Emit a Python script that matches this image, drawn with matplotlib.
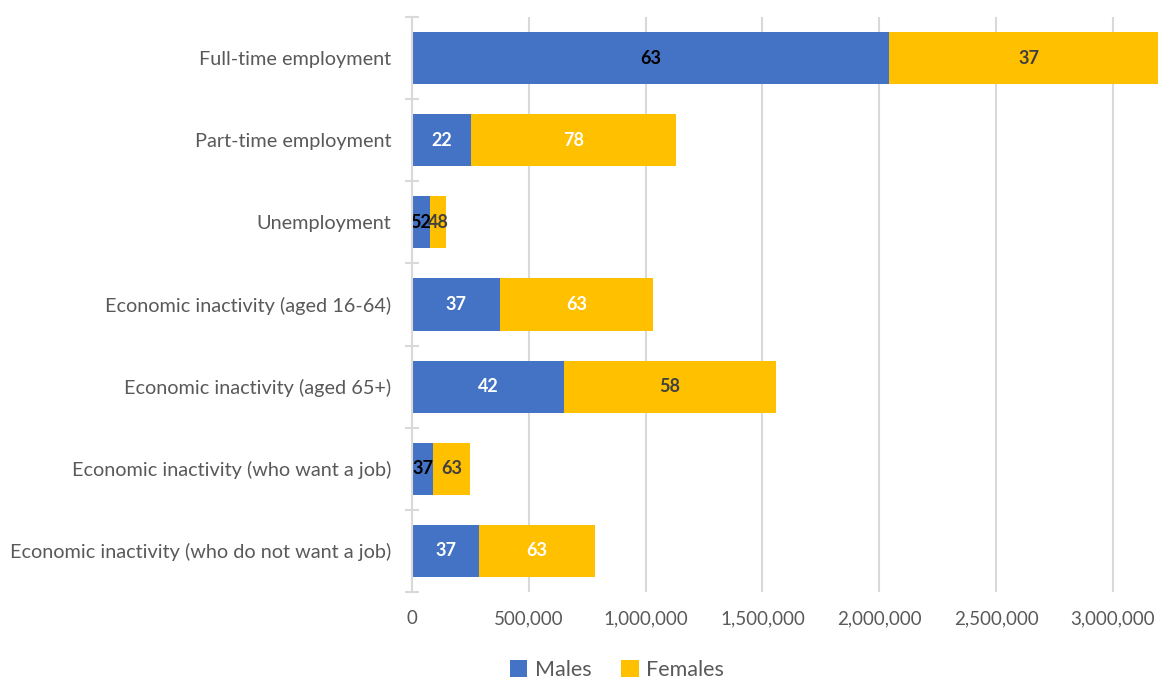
import numpy as np
import matplotlib
matplotlib.use("Agg")
import matplotlib.pyplot as plt
from matplotlib.ticker import FuncFormatter, FixedLocator

# ── Data ──────────────────────────────────────────────────────────────────────
categories = [
    "Full-time employment",
    "Part-time employment",
    "Unemployment",
    "Economic inactivity (aged 16-64)",
    "Economic inactivity (aged 65+)",
    "Economic inactivity (who want a job)",
    "Economic inactivity (who do not want a job)",
]
males   = [2042000, 251000, 76000, 377000, 651000, 90000, 287000]
females = [1199000, 878000, 71000, 653000, 907000, 160000, 496000]
male_pct   = [63, 22, 52, 37, 42, 37, 37]
female_pct = [37, 78, 48, 63, 58, 63, 63]
# label colours as in the original (white / black / dark grey)
male_lbl_col   = ["black", "white", "black", "white", "white", "black", "white"]
female_lbl_col = ["#404040", "white", "#404040", "white", "#404040", "#404040", "white"]

BLUE = "#4472C4"
GOLD = "#FFC000"
GRID = "#D9D9D9"
TXT = "#595959"

plt.rcParams["font.family"] = ["Lato", "DejaVu Sans"]

fig = plt.figure(figsize=(11.58, 6.79), dpi=100)
ax = fig.add_axes([412 / 1158, 87 / 679, 747.5 / 1158, 575 / 679])

y = np.arange(len(categories))
h = 0.634
ax.barh(y, males, height=h, color=BLUE, label="Males", zorder=3)
ax.barh(y, females, left=males, height=h, color=GOLD, label="Females", zorder=3)

for i in range(len(categories)):
    ax.text(males[i] / 2, y[i], str(male_pct[i]), ha="center", va="center",
            fontsize=13, fontweight="bold", color=male_lbl_col[i], zorder=4)
    ax.text(males[i] + females[i] / 2, y[i], str(female_pct[i]), ha="center",
            va="center", fontsize=13, fontweight="bold",
            color=female_lbl_col[i], zorder=4, clip_on=True)

ax.set_xlim(0, 3200000)
ax.set_ylim(len(categories) - 0.5, -0.5)
ax.xaxis.set_major_locator(FixedLocator(np.arange(0, 3000001, 500000)))
ax.xaxis.set_major_formatter(FuncFormatter(lambda v, p: f"{int(v):,}"))
ax.grid(axis="x", color=GRID, linewidth=1.5, zorder=0)
ax.tick_params(axis="x", length=0, pad=13, labelsize=13.5, labelcolor=TXT)

ax.set_yticks(y)
ax.set_yticklabels(categories)
ax.tick_params(axis="y", which="major", length=0, pad=15, labelsize=14.3,
               labelcolor=TXT)
ax.yaxis.set_minor_locator(FixedLocator(np.arange(-0.5, len(categories), 1)))
ax.tick_params(axis="y", which="minor", direction="inout", length=9.5,
               width=1.5, color=GRID)

for s in ["top", "right", "bottom"]:
    ax.spines[s].set_visible(False)
ax.spines["left"].set_color(GRID)
ax.spines["left"].set_linewidth(1.5)
ax.spines["left"].set_zorder(5)

fig.legend(loc="center", bbox_to_anchor=(617 / 1158, 1 - 670 / 679), ncol=2,
           frameon=False, fontsize=15.5, labelcolor=TXT, handlelength=0.8,
           handleheight=0.8, handletextpad=0.35, columnspacing=1.4)

fig.savefig("out.png", dpi=100)
print("Saved chart to out.png")
